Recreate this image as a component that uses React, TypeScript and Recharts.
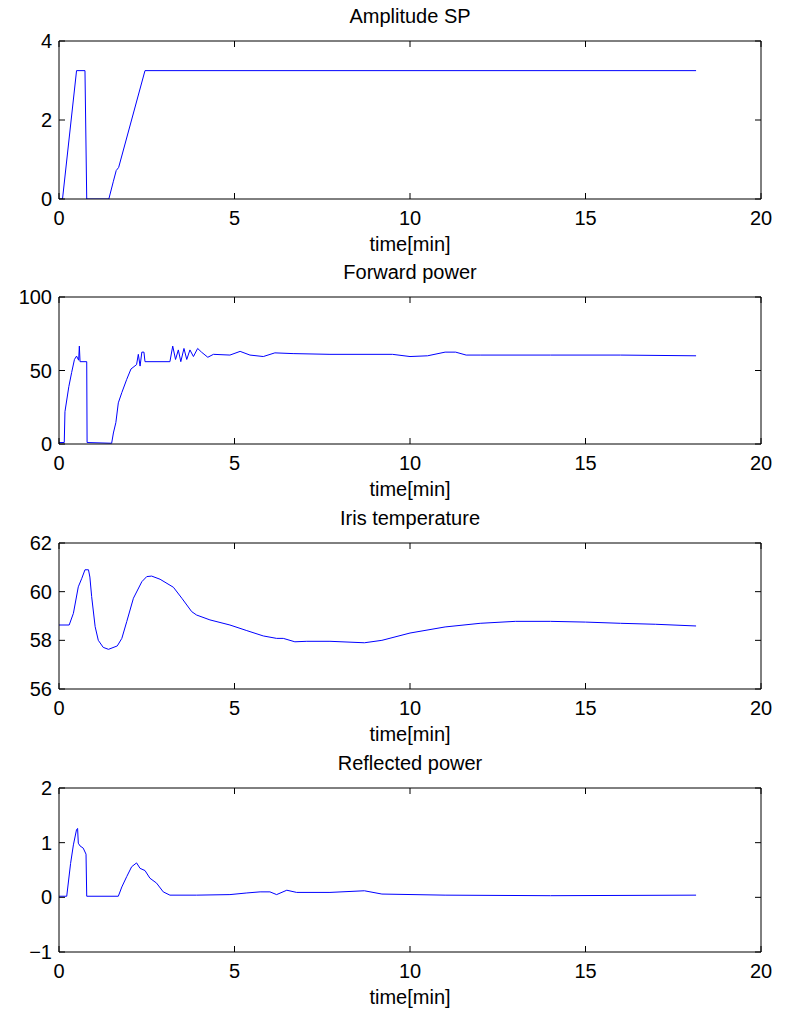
import { LineChart, Line, XAxis, YAxis, ReferenceLine } from "recharts";

const FONT = "'Liberation Sans', Arial, Helvetica, sans-serif";
const BLUE = "#0000ff";

const timeTicks = [0, 5, 10, 15, 20];

// Amplitude SP
const ampTime = [0, 0.1, 0.5, 0.74, 0.79, 1.42, 1.55, 1.63, 1.7, 2.45, 18.15];
const ampValue = [0, 0, 3.25, 3.25, 0, 0, 0.45, 0.72, 0.8, 3.25, 3.25];
const ampTicks = [0, 2, 4];

// Forward power
const fwdTime = [
  0, 0.15, 0.17, 0.28, 0.36, 0.44, 0.5, 0.56, 0.58, 0.6, 0.79, 0.8, 1.5, 1.55, 1.62, 1.69, 1.79, 1.93, 2.05,
  2.21, 2.26, 2.31, 2.36, 2.42, 2.45, 3.16, 3.24, 3.32, 3.4, 3.47, 3.56, 3.64, 3.73, 3.83, 3.95, 4.06, 4.24,
  4.4, 4.87, 5.16, 5.44, 5.82, 6.15, 6.67, 7.72, 9.5, 10.0, 10.5, 11.0, 11.3, 11.6, 12.0, 14, 16, 18.15,
];
const fwdValue = [
  1, 1, 22, 39, 48.6, 57.5, 59.8, 57, 66.6, 56, 56, 1, 0.5, 7.5, 14.6, 28, 35, 44, 51,
  54, 61, 53, 62.5, 62.5, 56, 56, 66.6, 57.5, 64, 56, 65, 57.5, 64, 59.5, 65, 62.5, 59,
  61, 60.5, 63, 60.5, 59.5, 62, 61.5, 61, 61, 59.5, 60, 62.5, 62.5, 60.5, 60.5, 60.5, 60.5, 60,
];
const fwdTicks = [0, 50, 100];

// Iris temperature
const irisTime = [
  0, 0.29, 0.41, 0.55, 0.65, 0.74, 0.84, 0.88, 0.93, 1.03, 1.12, 1.26, 1.41, 1.66, 1.79, 1.93, 2.12, 2.36,
  2.5, 2.64, 2.88, 3.26, 3.5, 3.78, 3.92, 4.3, 4.87, 5.35, 5.82, 6.2, 6.39, 6.72, 7.06, 7.72, 8.7, 9.2, 10,
  11, 12, 13, 14, 15, 16, 17, 18.15,
];
const irisValue = [
  58.63, 58.63, 59.11, 60.2, 60.55, 60.9, 60.9, 60.6, 59.8, 58.56, 58.0, 57.71, 57.63, 57.77, 58.08, 58.77,
  59.73, 60.41, 60.62, 60.64, 60.51, 60.18, 59.73, 59.18, 59.04, 58.84, 58.63, 58.4, 58.18, 58.08, 58.08,
  57.94, 57.96, 57.96, 57.9, 58.0, 58.3, 58.55, 58.7, 58.78, 58.78, 58.75, 58.7, 58.66, 58.59,
];
const irisTicks = [56, 58, 60, 62];

// Reflected power
const reflTime = [
  0, 0.22, 0.33, 0.41, 0.5, 0.53, 0.55, 0.6, 0.69, 0.77, 0.79, 1.69, 1.79, 1.93, 2.07, 2.21, 2.31, 2.45,
  2.59, 2.78, 2.97, 3.16, 3.92, 4.87, 5.35, 5.73, 6.01, 6.2, 6.49, 6.77, 7.72, 8.7, 9.2, 11, 14, 18.15,
];
const reflValue = [
  0.02, 0.02, 0.62, 0.96, 1.24, 1.26, 0.99, 0.94, 0.9, 0.79, 0.02, 0.02, 0.19, 0.38, 0.56, 0.63, 0.53, 0.49,
  0.35, 0.26, 0.1, 0.04, 0.04, 0.05, 0.08, 0.1, 0.1, 0.05, 0.13, 0.09, 0.09, 0.12, 0.06, 0.04, 0.03, 0.04,
];
const reflTicks = [-1, 0, 1, 2];

const toRows = (t: number[], v: number[]) => t.map((x, i) => ({ t: x, v: v[i] }));

const M_TOP = 40;
const AX_H = 60;
const PLOT_W = 702;
const TICK = 6; // inward tick length
const X_GAP = 12; // axis -> top of x label
const Y_GAP = 7; // axis -> right edge of y label
const fmt = (v: number) => (v < 0 ? `\u2212${Math.abs(v)}` : `${v}`);

// eslint-disable-next-line @typescript-eslint/no-explicit-any
function XTick({ x, y, payload, plotH }: any) {
  const axisY = y - X_GAP;
  return (
    <g>
      <line x1={x} x2={x} y1={axisY} y2={axisY - TICK} stroke="#000" />
      <line x1={x} x2={x} y1={axisY - plotH} y2={axisY - plotH + TICK} stroke="#000" />
      <text x={x} y={y} dy="0.71em" textAnchor="middle" fill="#000" fontSize={20} fontFamily={FONT}>
        {payload.value}
      </text>
    </g>
  );
}

// eslint-disable-next-line @typescript-eslint/no-explicit-any
function YTick({ x, y, payload }: any) {
  const axisX = x + Y_GAP;
  return (
    <g>
      <line x1={axisX} x2={axisX + TICK} y1={y} y2={y} stroke="#000" />
      <line x1={axisX + PLOT_W} x2={axisX + PLOT_W - TICK} y1={y} y2={y} stroke="#000" />
      <text x={x} y={y} dy="0.355em" textAnchor="end" fill="#000" fontSize={20} fontFamily={FONT}>
        {fmt(payload.value)}
      </text>
    </g>
  );
}

interface PanelProps {
  title: string;
  rows: { t: number; v: number }[];
  plotTop: number;
  plotH: number;
  yTicks: number[];
}

function Panel({ title, rows, plotTop, plotH, yTicks }: PanelProps) {
  const h = M_TOP + plotH + AX_H;
  const domain: [number, number] = [yTicks[0], yTicks[yTicks.length - 1]];
  const textStyle = {
    position: "absolute" as const,
    left: 59,
    width: PLOT_W,
    textAlign: "center" as const,
    fontFamily: FONT,
    fontSize: 20,
    lineHeight: "20px",
    color: "#000",
  };
  return (
    <div style={{ position: "absolute", left: 0, top: plotTop - M_TOP, width: 793, height: h }}>
      <div style={{ ...textStyle, top: M_TOP - 35 }}>{title}</div>
      <LineChart width={793} height={h} data={rows} margin={{ top: M_TOP, right: 32, bottom: 0, left: 9 }}>
        <XAxis
          xAxisId="b"
          dataKey="t"
          type="number"
          domain={[0, 20]}
          ticks={timeTicks}
          allowDataOverflow
          height={AX_H}
          tickSize={6}
          tickMargin={X_GAP - 6}
          tickLine={false}
          tick={(p: object) => <XTick {...p} plotH={plotH} />}
          axisLine={{ stroke: "#000", strokeWidth: 1 }}
        />
        <YAxis
          yAxisId="l"
          type="number"
          domain={domain}
          ticks={yTicks}
          allowDataOverflow
          width={50}
          tickSize={6}
          tickMargin={Y_GAP - 6}
          tickLine={false}
          tick={(p: object) => <YTick {...p} />}
          axisLine={{ stroke: "#000", strokeWidth: 1 }}
        />
        <ReferenceLine xAxisId="b" yAxisId="l" y={domain[1]} stroke="#000" strokeWidth={1} />
        <ReferenceLine xAxisId="b" yAxisId="l" x={20} stroke="#000" strokeWidth={1} />
        <Line
          xAxisId="b"
          yAxisId="l"
          type="linear"
          dataKey="v"
          stroke={BLUE}
          strokeWidth={1}
          dot={false}
          activeDot={false}
          isAnimationActive={false}
        />
      </LineChart>
      <div style={{ ...textStyle, top: M_TOP + plotH + 35 }}>time[min]</div>
    </div>
  );
}

export default function App() {
  return (
    <div style={{ position: "fixed", left: 0, top: 0, width: 793, height: 1021, background: "#fff" }}>
      <Panel title="Amplitude SP" rows={toRows(ampTime, ampValue)} plotTop={41} plotH={158} yTicks={ampTicks} />
      <Panel title="Forward power" rows={toRows(fwdTime, fwdValue)} plotTop={297} plotH={147} yTicks={fwdTicks} />
      <Panel title="Iris temperature" rows={toRows(irisTime, irisValue)} plotTop={543} plotH={146} yTicks={irisTicks} />
      <Panel title="Reflected power" rows={toRows(reflTime, reflValue)} plotTop={788} plotH={164} yTicks={reflTicks} />
    </div>
  );
}
